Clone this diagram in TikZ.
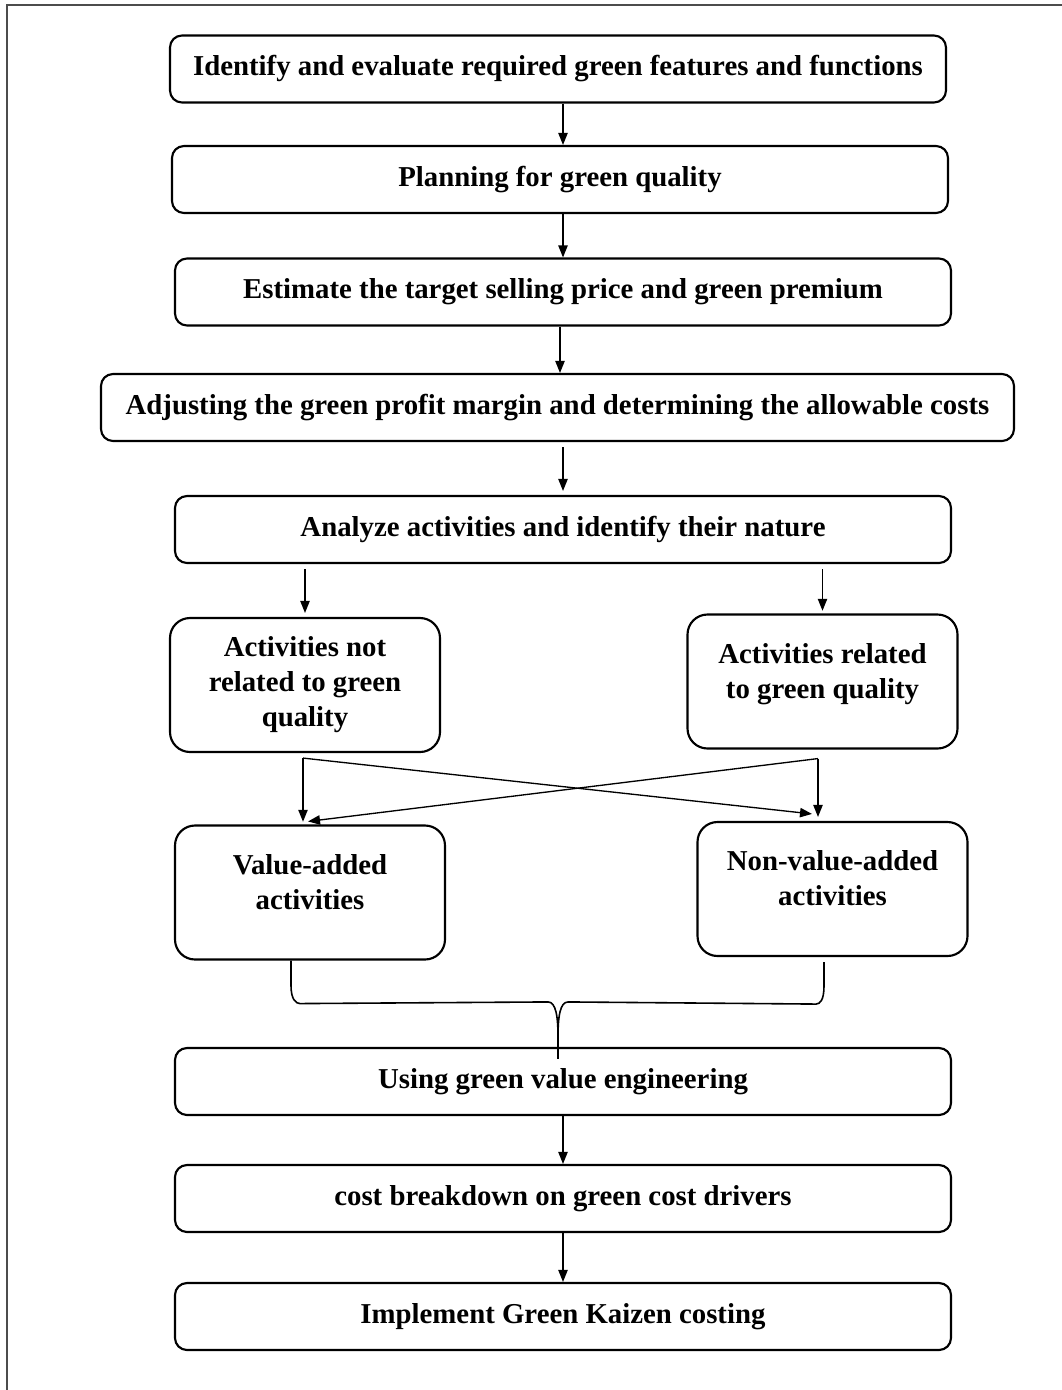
\documentclass[tikz,border=0pt]{standalone}
\usepackage{fontspec}
\setmainfont{Liberation Serif}
\usetikzlibrary{arrows.meta}
\usetikzlibrary{calc}

\tikzset{
  stepbox/.style={draw, line width=1.6pt, rounded corners=9pt, minimum width=582pt,
    minimum height=50.25pt, inner sep=0pt, align=center,
    font=\fontsize{21.6}{26.25}\selectfont\bfseries},
  sidebox/.style={stepbox, rounded corners=15pt, minimum width=202.5pt, minimum height=100.5pt},
  raised/.style={text depth=16pt},
  flow/.style={line width=1pt, -{Triangle[length=9pt,width=7pt]}},
  brace/.style={line width=1.2pt}
}

\begin{document}
\begin{tikzpicture}[x=0.75pt, y=-0.75pt]

    % page and frame
    \useasboundingbox (0,0) rectangle (1062,1390);
    \draw[gray!60!black, line width=1.4pt] (7,1390) -- (7,5) -- (1062,5);

    % main steps
    \node[stepbox] (ident) at (558,69) {Identify and evaluate required green features and functions};
    \node[stepbox] (plan) at (560,179.5) {Planning for green quality};
    \node[stepbox] (price) at (563,292) {Estimate the target selling price and green premium};
    \node[stepbox, minimum width=684.75pt] (margin) at (557.5,407.5) {Adjusting the green profit margin and determining the allowable costs};
    \node[stepbox] (analyze) at (563,529.5) {Analyze activities and identify their nature};

    % activity classes
    \node[sidebox] (notgreen) at (305,685) {Activities not\\related to green\\quality};
    \node[sidebox, raised] (green) at (822.5,681.5) {Activities related\\to green quality};
    \node[sidebox, raised] (valueadd) at (310,892.5) {Value-added\\activities};
    \node[sidebox, raised] (nonvalue) at (832.5,889) {Non-value-added\\activities};

    % final steps
    \node[stepbox] (engineer) at (563,1081.5) {Using green value engineering};
    \node[stepbox] (breakdown) at (563,1198.5) {cost breakdown on green cost drivers};
    \node[stepbox] (kaizen) at (563,1316.5) {Implement Green Kaizen costing};

    % arrows between main steps
    \draw[flow] (ident.south -| price) -- (plan.north -| price);
    \draw[flow] (plan.south -| price) -- (price.north);
    \draw[flow] (price.south -| plan) -- (margin.north -| plan);
    \draw[flow, shorten <=4pt, shorten >=3pt] (margin.south -| analyze) -- (analyze.north);
    \draw[flow, shorten <=4pt, shorten >=3pt] (analyze.south -| notgreen) -- (notgreen.north);
    \draw[flow, shorten <=4pt, shorten >=2pt] (analyze.south -| green) -- (green.north);

    % crossing arrows
    \coordinate (splitL) at ($(notgreen.south)+(-2,5)$);
    \coordinate (splitR) at ($(green.south)+(-4.5,9)$);
    \draw[flow, shorten >=2pt] (splitL) -- (splitL |- valueadd.north);
    \draw[flow] (splitL) -- ($(nonvalue.north)+(-20.5,-7)$);
    \draw[flow, shorten >=3pt] (splitR) -- (splitR |- nonvalue.north);
    \draw[flow] (splitR) -- ($(valueadd.north)+(-2,-3)$);

    % brace joining into value engineering
    \coordinate (joinL) at ($(valueadd.south)+(-19,0)$);
    \coordinate (joinR) at ($(nonvalue.south)+(-8.5,5)$);
    \coordinate (tip) at ($(engineer.north)+(-5,12)$);
    \draw[brace] (joinL) -- ++(0,25) .. controls +(0,14) and +(-4,0) .. ++(9,18)
      -- ($(tip)+(-10,-57)$) .. controls +(8,0) and +(0,-20) .. ($(tip)+(0,-22)$) -- (tip);
    \draw[brace] (joinR) -- ++(0,24) .. controls +(0,14) and +(4,0) .. ++(-8,18)
      -- ($(tip)+(10,-57)$) .. controls +(-8,0) and +(0,-20) .. ($(tip)+(0,-22)$);

    % arrows after value engineering
    \draw[flow] (engineer.south) -- (breakdown.north);
    \draw[flow] (breakdown.south) -- (kaizen.north);

\end{tikzpicture}
\end{document}
